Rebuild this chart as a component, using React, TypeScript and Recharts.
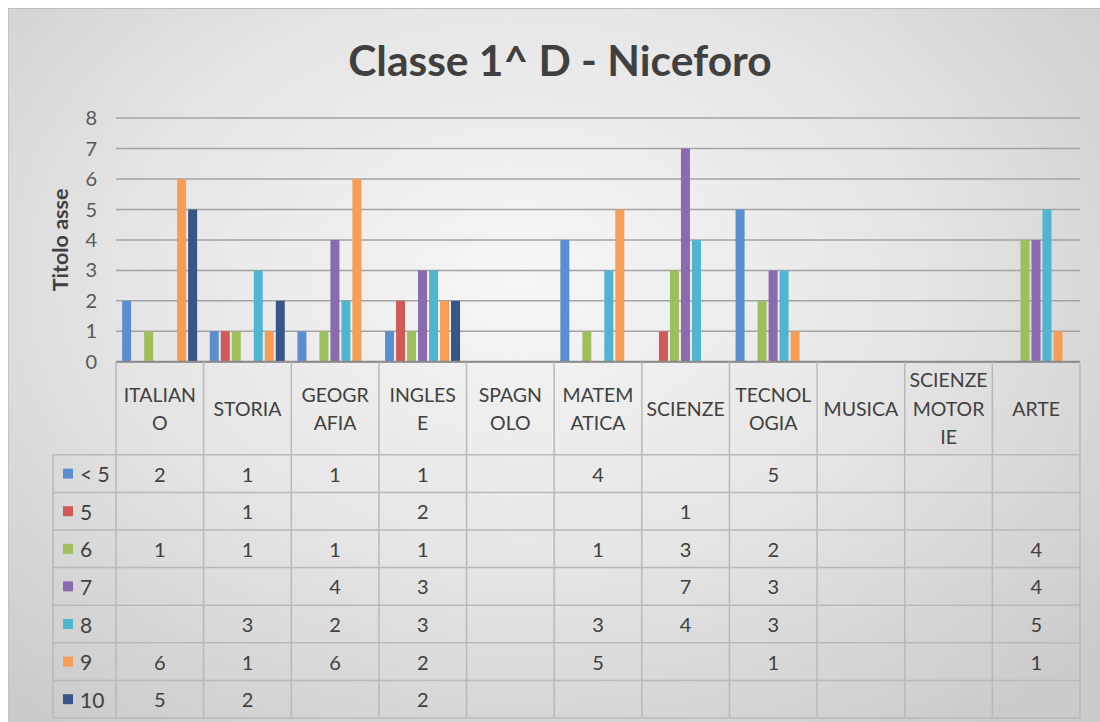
import { BarChart, Bar, XAxis, YAxis, CartesianGrid, Label } from 'recharts'

// ---- data ----
const categories = [
  'ITALIANO', 'STORIA', 'GEOGRAFIA', 'INGLESE', 'SPAGNOLO', 'MATEMATICA',
  'SCIENZE', 'TECNOLOGIA', 'MUSICA', 'SCIENZE MOTORIE', 'ARTE',
]
// header labels as Excel wraps them in the data table
const headerLines = [
  ['ITALIAN', 'O'], ['STORIA'], ['GEOGR', 'AFIA'], ['INGLES', 'E'], ['SPAGN', 'OLO'],
  ['MATEM', 'ATICA'], ['SCIENZE'], ['TECNOL', 'OGIA'], ['MUSICA'], ['SCIENZE', 'MOTOR', 'IE'], ['ARTE'],
]
const seriesNames = ['< 5', '5', '6', '7', '8', '9', '10']
const gradeBelow5 = [2, 1, 1, 1, null, 4, null, 5, null, null, null]
const grade5 = [null, 1, null, 2, null, null, 1, null, null, null, null]
const grade6 = [1, 1, 1, 1, null, 1, 3, 2, null, null, 4]
const grade7 = [null, null, 4, 3, null, null, 7, 3, null, null, 4]
const grade8 = [null, 3, 2, 3, null, 3, 4, 3, null, null, 5]
const grade9 = [6, 1, 6, 2, null, 5, null, 1, null, null, 1]
const grade10 = [5, 2, null, 2, null, null, null, null, null, null, null]
const yTicks = [0, 1, 2, 3, 4, 5, 6, 7, 8]

const seriesValues = [gradeBelow5, grade5, grade6, grade7, grade8, grade9, grade10]
const colors = ['#5B8ED0', '#D05A58', '#9DC05C', '#8A6BB0', '#4FB5D0', '#F79D55', '#37568A']

const data = categories.map((name, i) => {
  const row: Record<string, string | number | null> = { name }
  seriesValues.forEach((vals, k) => { row['s' + k] = vals[i] })
  return row
})

// ---- layout ----
const W = 1092
const H = 714
const Y_W = 108
const MARGIN = { top: 110, right: 20, bottom: 4, left: 0 }
const PLOT_W = W - MARGIN.left - MARGIN.right - Y_W
const HEADER_H = 93
const ROW_H = 37.6
const LEGEND_W = 63
const BORDER = '#b9b9b9'
const TEXT = '#404040'
const FONT = 'Lato, "Open Sans", sans-serif'

// draws the data table under the plot, one column per category tick
function TableTick(props: any) {
  const { x, y, index } = props
  const band = PLOT_W / categories.length
  const left = x - band / 2
  const rowsTop = y + HEADER_H
  const bottom = rowsTop + ROW_H * seriesNames.length
  const lines = headerLines[index]
  const lh = 28.5
  const headY = y + HEADER_H / 2 - ((lines.length - 1) * lh) / 2

  return (
    <g fontFamily={FONT}>
      <line x1={left} y1={y} x2={left} y2={bottom} stroke={BORDER} strokeWidth={1.5} />
      {index === categories.length - 1 && (
        <line x1={left + band} y1={y} x2={left + band} y2={bottom} stroke={BORDER} strokeWidth={1.5} />
      )}
      {lines.map((t, j) => (
        <text key={j} x={x} y={headY + j * lh} textAnchor="middle" dominantBaseline="central"
          fontSize={19.5} fill={TEXT}>{t}</text>
      ))}
      {seriesNames.map((_, k) => {
        const v = seriesValues[k][index]
        return (
          <g key={k}>
            <line x1={left} y1={rowsTop + k * ROW_H} x2={left + band} y2={rowsTop + k * ROW_H}
              stroke={BORDER} strokeWidth={1.5} />
            {v != null && (
              <text x={x} y={rowsTop + k * ROW_H + ROW_H / 2} textAnchor="middle"
                dominantBaseline="central" fontSize={20} fill={TEXT}>{v}</text>
            )}
          </g>
        )
      })}
      <line x1={left} y1={bottom} x2={left + band} y2={bottom} stroke={BORDER} strokeWidth={1.5} />
      {index === 0 && (
        <g>
          <line x1={left - LEGEND_W} y1={rowsTop} x2={left - LEGEND_W} y2={bottom} stroke={BORDER} strokeWidth={1.5} />
          {seriesNames.map((s, k) => (
            <g key={k}>
              <line x1={left - LEGEND_W} y1={rowsTop + k * ROW_H} x2={left} y2={rowsTop + k * ROW_H}
                stroke={BORDER} strokeWidth={1.5} />
              <rect x={left - LEGEND_W + 10} y={rowsTop + k * ROW_H + ROW_H / 2 - 5} width={10} height={10}
                fill={colors[k]} />
              <text x={left - LEGEND_W + 27} y={rowsTop + k * ROW_H + ROW_H / 2} dominantBaseline="central"
                fontSize={21} fill={TEXT}>{s}</text>
            </g>
          ))}
          <line x1={left - LEGEND_W} y1={bottom} x2={left} y2={bottom} stroke={BORDER} strokeWidth={1.5} />
        </g>
      )}
    </g>
  )
}

export default function App() {
  return (
    <div
      style={{
        position: 'absolute',
        left: 8,
        top: 8,
        width: W,
        height: H,
        borderTop: '1px solid #bdbdbd',
        borderLeft: '1px solid #c4c4c4',
        boxSizing: 'border-box',
        background: 'radial-gradient(ellipse 70% 78% at 47% 38%, #f6f6f6 0%, #e6e6e6 50%, #cbcbcb 100%)',
        fontFamily: FONT,
      }}
    >
      <div
        style={{
          position: 'absolute',
          top: 30,
          left: 0,
          width: W,
          textAlign: 'center',
          fontSize: 42.5,
          lineHeight: 1,
          fontWeight: 700,
          color: TEXT,
          paddingLeft: 10,
          boxSizing: 'border-box',
        }}
      >
        Classe 1^ D - Niceforo
      </div>
      <BarChart
        width={W}
        height={H}
        data={data}
        margin={MARGIN}
        barCategoryGap="7%"
        barGap={2}
        style={{ position: 'absolute', left: -1, top: -1 }}
      >
        <CartesianGrid vertical={false} stroke="#a3a3a3" strokeWidth={1.5} />
        <XAxis
          dataKey="name"
          interval={0}
          height={HEADER_H + ROW_H * seriesNames.length}
          tickLine={false}
          tickSize={0}
          tickMargin={0}
          axisLine={{ stroke: '#8a8a8a', strokeWidth: 2 }}
          tick={<TableTick />}
        />
        <YAxis
          width={Y_W}
          domain={[0, 8]}
          ticks={yTicks}
          interval={0}
          axisLine={false}
          tickLine={false}
          tickMargin={13}
          tick={{ fill: '#595959', fontSize: 20, fontFamily: FONT }}
        >
          <Label
            content={(p: any) => {
              const vb = p.viewBox
              const cx = vb.x + 52
              const cy = vb.y + vb.height / 2
              return (
                <text x={cx} y={cy} transform={`rotate(-90 ${cx} ${cy})`} textAnchor="middle"
                  dominantBaseline="central" fontSize={21.5} fontWeight={700} fill={TEXT} fontFamily={FONT}>
                  Titolo asse
                </text>
              )
            }}
          />
        </YAxis>
        {seriesNames.map((s, k) => (
          <Bar key={s} dataKey={'s' + k} name={s} fill={colors[k]} isAnimationActive={false} />
        ))}
      </BarChart>
    </div>
  )
}
